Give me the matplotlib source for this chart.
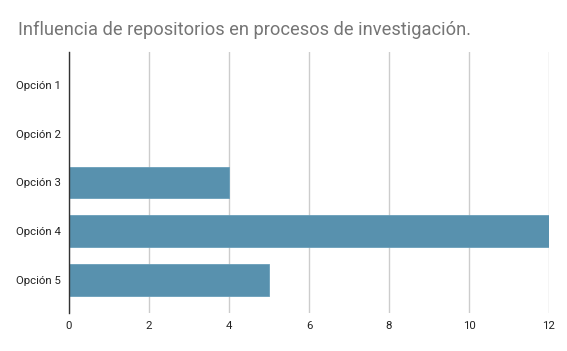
import matplotlib
matplotlib.use("Agg")
import matplotlib.pyplot as plt

categories = ["Opción 1", "Opción 2", "Opción 3", "Opción 4", "Opción 5"]
values = [0, 0, 4, 12, 5]
xticks = [0, 2, 4, 6, 8, 10, 12]
title = "Influencia de repositorios en procesos de investigación."

plt.rcParams['font.family'] = ['Roboto', 'DejaVu Sans']

fig = plt.figure(figsize=(5.67, 3.51), dpi=100)
ax = fig.add_axes([69/567, 1-313/351, (549-69)/567, (313-52)/351])

ypos = list(range(len(categories)))
ax.barh(ypos, values, height=0.65, color="#5891ae", edgecolor="#6a9fba", linewidth=0.6, zorder=3)
ax.set_ylim(4.68, -0.68)
ax.set_xlim(0, 12)
ax.set_yticks(ypos)
ax.set_yticklabels(categories, fontsize=8.2, color="#222222")
ax.set_xticks(xticks)
ax.set_xticklabels([str(t) for t in xticks], fontsize=8.2, color="#222222")
ax.tick_params(length=0, pad=6)
ax.grid(axis="x", color="#cccccc", linewidth=1, zorder=0)
for s in ["top", "right", "bottom"]:
    ax.spines[s].set_visible(False)
ax.spines["left"].set_color("#333333")
ax.spines["left"].set_linewidth(1)
ax.spines["left"].set_zorder(4)

fig.text(18/567, 1-30/351, title, fontsize=13.15, color="#757575", va="center", ha="left")

fig.savefig("out.png", dpi=100)
